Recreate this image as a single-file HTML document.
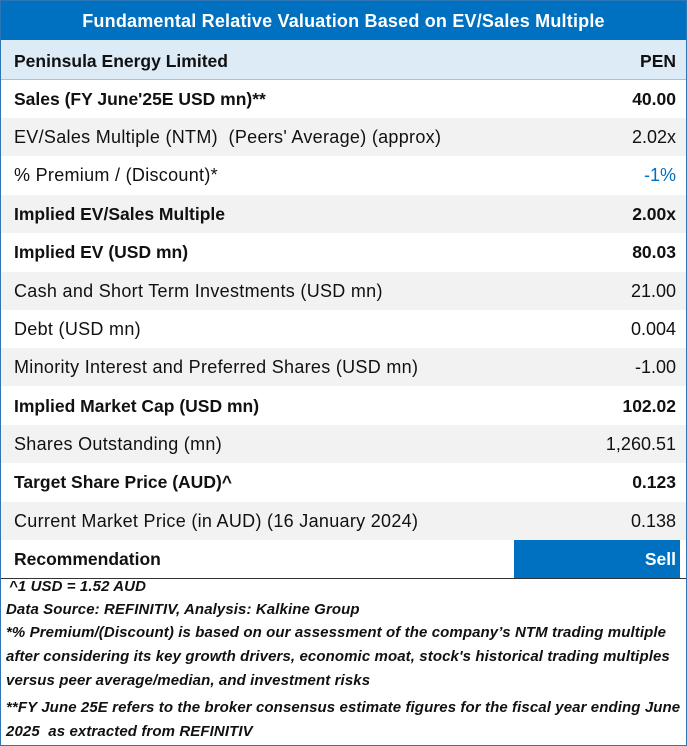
<!DOCTYPE html>
<html><head><meta charset="utf-8"><style>
body{margin:0;width:687px;height:746px;overflow:hidden;background:#fff;font-family:"Liberation Sans",sans-serif;}
#frame{position:absolute;left:0;top:0;width:685px;height:744px;border:1px solid #2e75b6;}
.row{position:absolute;left:1px;width:685px;height:38px;font-size:18px;letter-spacing:0.3px;color:#111;}
.row .l{position:absolute;left:13px;top:9px;white-space:nowrap;}
.row .r{position:absolute;right:10px;top:9px;white-space:nowrap;letter-spacing:0;}
.b{font-weight:bold;font-size:17.5px;letter-spacing:0;}
.g{background:#f2f2f2;}
.fn{position:absolute;left:6px;font-size:15px;letter-spacing:0.1px;font-weight:bold;font-style:italic;color:#111;white-space:nowrap;}
</style></head><body>
<div id="frame"></div>
<div style="position:absolute;left:1px;top:1px;width:685px;height:39px;background:#0070c0;color:#fff;font-weight:bold;font-size:18px;letter-spacing:0.2px;text-align:center;line-height:40px;">Fundamental Relative Valuation Based on EV/Sales Multiple</div>
<div class="row b" style="top:40px;height:39px;background:#ddebf7;border-bottom:1px solid #9dc3e6;"><span class="l" style="top:11px">Peninsula Energy Limited</span><span class="r" style="top:11px">PEN</span></div>
<div class="row b" style="top:80px"><span class="l">Sales (FY June'25E USD mn)**</span><span class="r">40.00</span></div>
<div class="row g" style="top:118px"><span class="l">EV/Sales Multiple (NTM)&nbsp; (Peers' Average) (approx)</span><span class="r">2.02x</span></div>
<div class="row" style="top:156px"><span class="l">% Premium / (Discount)*</span><span class="r" style="color:#0070c0">-1%</span></div>
<div class="row b g" style="top:195px"><span class="l">Implied EV/Sales Multiple</span><span class="r">2.00x</span></div>
<div class="row b" style="top:233px"><span class="l">Implied EV (USD mn)</span><span class="r">80.03</span></div>
<div class="row g" style="top:272px"><span class="l">Cash and Short Term Investments (USD mn)</span><span class="r">21.00</span></div>
<div class="row" style="top:310px"><span class="l">Debt (USD mn)</span><span class="r">0.004</span></div>
<div class="row g" style="top:348px"><span class="l">Minority Interest and Preferred Shares (USD mn)</span><span class="r">-1.00</span></div>
<div class="row b" style="top:387px"><span class="l">Implied Market Cap (USD mn)</span><span class="r">102.02</span></div>
<div class="row g" style="top:425px"><span class="l">Shares Outstanding (mn)</span><span class="r">1,260.51</span></div>
<div class="row b" style="top:463px"><span class="l">Target Share Price (AUD)^</span><span class="r">0.123</span></div>
<div class="row g" style="top:502px"><span class="l">Current Market Price (in AUD) (16 January 2024)</span><span class="r">0.138</span></div>
<div class="row b" style="top:540px;border-bottom:1.5px solid #333;"><span class="l">Recommendation</span>
<div style="position:absolute;left:513px;top:0;width:166px;height:38px;background:#0070c0;color:#fff;"><span style="position:absolute;right:4px;top:9px">Sell</span></div></div>
<div class="fn" style="top:578px;left:9px">^1 USD = 1.52 AUD</div>
<div class="fn" style="top:601px">Data Source: REFINITIV, Analysis: Kalkine Group</div>
<div class="fn" style="top:624px">*% Premium/(Discount) is based on our assessment of the company’s NTM trading multiple</div>
<div class="fn" style="top:648px">after considering its key growth drivers, economic moat, stock's historical trading multiples</div>
<div class="fn" style="top:672px">versus peer average/median, and investment risks</div>
<div class="fn" style="top:699px">**FY June 25E refers to the broker consensus estimate figures for the fiscal year ending June</div>
<div class="fn" style="top:723px">2025&nbsp; as extracted from REFINITIV</div>
</body></html>
